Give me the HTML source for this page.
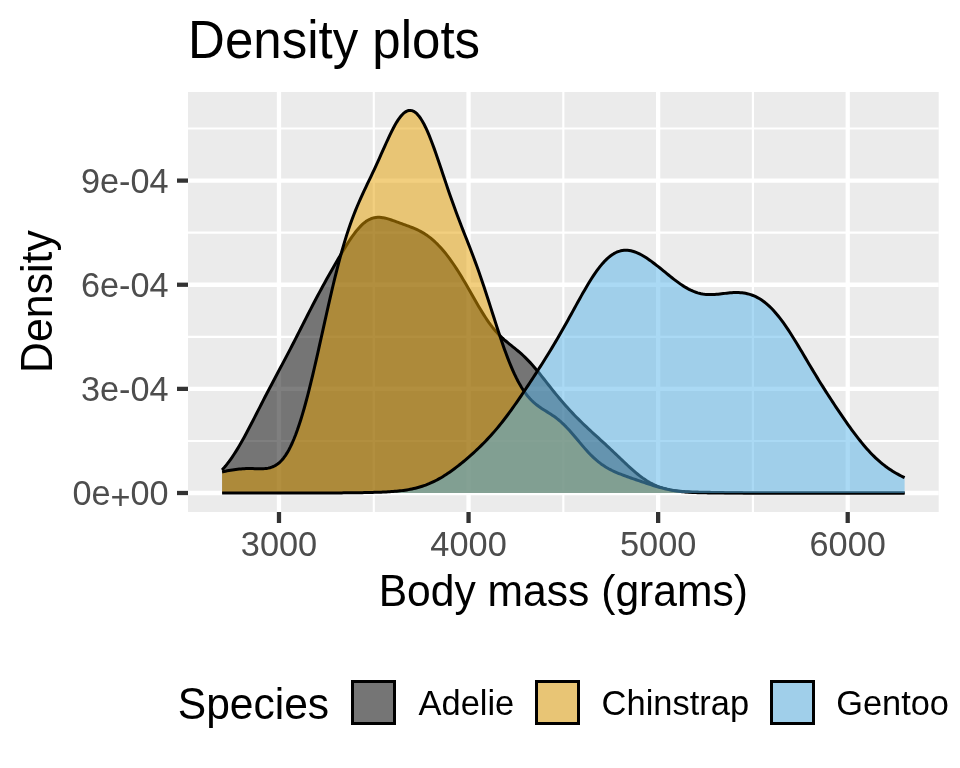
<!DOCTYPE html>
<html><head><meta charset="utf-8"><style>
html,body{margin:0;padding:0;background:#fff;}
svg{display:block;will-change:transform;}
text{font-family:"Liberation Sans",sans-serif;}
.mj{stroke:#fff;stroke-width:4.27;}
.mn{stroke:#fff;stroke-width:2.13;}
.tk{stroke:#333;stroke-width:4.27;}
.ax{font-size:35.2px;fill:#4d4d4d;}
.lt{font-size:35.2px;fill:#000;}
</style></head><body>
<svg width="960" height="768" viewBox="0 0 960 768">
<rect x="0" y="0" width="960" height="768" fill="#fff"/>
<text transform="translate(188.1,58.3) scale(0.966,1)" font-size="52.8" fill="#000">Density plots</text>
<rect x="188" y="92" width="750.7" height="420" fill="#ebebeb"/>
<line x1="373.78" y1="92" x2="373.78" y2="512" class="mn"/><line x1="563.35" y1="92" x2="563.35" y2="512" class="mn"/><line x1="752.92" y1="92" x2="752.92" y2="512" class="mn"/><line x1="188" y1="440.94" x2="938.7" y2="440.94" class="mn"/><line x1="188" y1="336.81" x2="938.7" y2="336.81" class="mn"/><line x1="188" y1="232.67" x2="938.7" y2="232.67" class="mn"/><line x1="188" y1="128.54" x2="938.7" y2="128.54" class="mn"/><line x1="278.99" y1="92" x2="278.99" y2="512" class="mj"/><line x1="468.56" y1="92" x2="468.56" y2="512" class="mj"/><line x1="658.14" y1="92" x2="658.14" y2="512" class="mj"/><line x1="847.71" y1="92" x2="847.71" y2="512" class="mj"/><line x1="188" y1="493.00" x2="938.7" y2="493.00" class="mj"/><line x1="188" y1="388.87" x2="938.7" y2="388.87" class="mj"/><line x1="188" y1="284.74" x2="938.7" y2="284.74" class="mj"/><line x1="188" y1="180.61" x2="938.7" y2="180.61" class="mj"/>
<path d="M222.10,470.02 L223.81,468.10 L225.52,466.07 L227.23,463.93 L228.94,461.68 L230.65,459.32 L232.36,456.86 L234.07,454.29 L235.78,451.62 L237.49,448.85 L239.21,445.99 L240.92,443.05 L242.63,440.03 L244.34,436.94 L246.05,433.78 L247.76,430.58 L249.47,427.32 L251.18,424.03 L252.89,420.71 L254.60,417.37 L256.31,414.02 L258.02,410.67 L259.73,407.31 L261.44,403.96 L263.15,400.62 L264.86,397.30 L266.57,393.99 L268.28,390.70 L269.99,387.43 L271.71,384.18 L273.42,380.93 L275.13,377.71 L276.84,374.49 L278.55,371.27 L280.26,368.06 L281.97,364.84 L283.68,361.61 L285.39,358.38 L287.10,355.12 L288.81,351.86 L290.52,348.57 L292.23,345.27 L293.94,341.94 L295.65,338.60 L297.36,335.25 L299.07,331.88 L300.78,328.51 L302.49,325.13 L304.21,321.75 L305.92,318.38 L307.63,315.02 L309.34,311.67 L311.05,308.34 L312.76,305.04 L314.47,301.76 L316.18,298.51 L317.89,295.28 L319.60,292.09 L321.31,288.92 L323.02,285.78 L324.73,282.67 L326.44,279.58 L328.15,276.52 L329.86,273.48 L331.57,270.45 L333.28,267.45 L334.99,264.46 L336.71,261.49 L338.42,258.55 L340.13,255.64 L341.84,252.76 L343.55,249.92 L345.26,247.12 L346.97,244.39 L348.68,241.73 L350.39,239.15 L352.10,236.66 L353.81,234.29 L355.52,232.03 L357.23,229.90 L358.94,227.92 L360.65,226.10 L362.36,224.43 L364.07,222.94 L365.78,221.62 L367.49,220.49 L369.21,219.53 L370.92,218.75 L372.63,218.14 L374.34,217.70 L376.05,217.42 L377.76,217.29 L379.47,217.29 L381.18,217.42 L382.89,217.65 L384.60,217.99 L386.31,218.40 L388.02,218.87 L389.73,219.40 L391.44,219.97 L393.15,220.56 L394.86,221.18 L396.57,221.80 L398.28,222.43 L399.99,223.06 L401.71,223.68 L403.42,224.31 L405.13,224.93 L406.84,225.56 L408.55,226.19 L410.26,226.84 L411.97,227.50 L413.68,228.19 L415.39,228.92 L417.10,229.69 L418.81,230.51 L420.52,231.39 L422.23,232.33 L423.94,233.35 L425.65,234.43 L427.36,235.60 L429.07,236.85 L430.78,238.19 L432.49,239.61 L434.21,241.13 L435.92,242.73 L437.63,244.42 L439.34,246.20 L441.05,248.07 L442.76,250.02 L444.47,252.06 L446.18,254.18 L447.89,256.39 L449.60,258.67 L451.31,261.04 L453.02,263.49 L454.73,266.01 L456.44,268.60 L458.15,271.27 L459.86,274.01 L461.57,276.80 L463.28,279.65 L464.99,282.56 L466.71,285.50 L468.42,288.48 L470.13,291.48 L471.84,294.49 L473.55,297.50 L475.26,300.50 L476.97,303.47 L478.68,306.41 L480.39,309.29 L482.10,312.11 L483.81,314.85 L485.52,317.50 L487.23,320.06 L488.94,322.52 L490.65,324.86 L492.36,327.09 L494.07,329.21 L495.78,331.22 L497.49,333.12 L499.21,334.91 L500.92,336.61 L502.63,338.23 L504.34,339.77 L506.05,341.24 L507.76,342.67 L509.47,344.06 L511.18,345.43 L512.89,346.80 L514.60,348.17 L516.31,349.56 L518.02,350.98 L519.73,352.44 L521.44,353.95 L523.15,355.52 L524.86,357.14 L526.57,358.83 L528.28,360.58 L529.99,362.40 L531.71,364.28 L533.42,366.22 L535.13,368.21 L536.84,370.24 L538.55,372.32 L540.26,374.43 L541.97,376.57 L543.68,378.73 L545.39,380.90 L547.10,383.07 L548.81,385.25 L550.52,387.41 L552.23,389.56 L553.94,391.70 L555.65,393.82 L557.36,395.91 L559.07,397.97 L560.78,400.01 L562.49,402.01 L564.21,403.99 L565.92,405.93 L567.63,407.84 L569.34,409.72 L571.05,411.57 L572.76,413.38 L574.47,415.17 L576.18,416.93 L577.89,418.66 L579.60,420.37 L581.31,422.05 L583.02,423.71 L584.73,425.35 L586.44,426.96 L588.15,428.57 L589.86,430.15 L591.57,431.73 L593.28,433.30 L594.99,434.86 L596.71,436.41 L598.42,437.97 L600.13,439.52 L601.84,441.08 L603.55,442.65 L605.26,444.22 L606.97,445.80 L608.68,447.39 L610.39,448.99 L612.10,450.60 L613.81,452.22 L615.52,453.84 L617.23,455.48 L618.94,457.11 L620.65,458.75 L622.36,460.38 L624.07,462.01 L625.78,463.63 L627.49,465.23 L629.21,466.80 L630.92,468.36 L632.63,469.88 L634.34,471.37 L636.05,472.81 L637.76,474.22 L639.47,475.57 L641.18,476.87 L642.89,478.12 L644.60,479.30 L646.31,480.43 L648.02,481.50 L649.73,482.50 L651.44,483.44 L653.15,484.31 L654.86,485.13 L656.57,485.88 L658.28,486.57 L659.99,487.21 L661.71,487.78 L663.42,488.31 L665.13,488.78 L666.84,489.21 L668.55,489.59 L670.26,489.93 L671.97,490.23 L673.68,490.50 L675.39,490.73 L677.10,490.94 L678.81,491.12 L680.52,491.28 L682.23,491.42 L683.94,491.54 L685.65,491.64 L687.36,491.73 L689.07,491.82 L690.78,491.89 L692.49,491.95 L694.21,492.01 L695.92,492.06 L697.63,492.11 L699.34,492.15 L701.05,492.19 L702.76,492.23 L704.47,492.27 L706.18,492.30 L707.89,492.34 L709.60,492.37 L711.31,492.40 L713.02,492.44 L714.73,492.47 L716.44,492.50 L718.15,492.53 L719.86,492.56 L721.57,492.59 L723.28,492.62 L724.99,492.65 L726.71,492.68 L728.42,492.70 L730.13,492.73 L731.84,492.75 L733.55,492.77 L735.26,492.79 L736.97,492.81 L738.68,492.83 L740.39,492.85 L742.10,492.87 L743.81,492.88 L745.52,492.89 L747.23,492.91 L748.94,492.92 L750.65,492.93 L752.36,492.94 L754.07,492.94 L755.78,492.95 L757.49,492.96 L759.21,492.96 L760.92,492.97 L762.63,492.97 L764.34,492.98 L766.05,492.98 L767.76,492.98 L769.47,492.99 L771.18,492.99 L772.89,492.99 L774.60,492.99 L776.31,492.99 L778.02,492.99 L779.73,493.00 L781.44,493.00 L783.15,493.00 L784.86,493.00 L786.57,493.00 L788.28,493.00 L789.99,493.00 L791.71,493.00 L793.42,493.00 L795.13,493.00 L796.84,493.00 L798.55,493.00 L800.26,493.00 L801.97,493.00 L803.68,493.00 L805.39,493.00 L807.10,493.00 L808.81,493.00 L810.52,493.00 L812.23,493.00 L813.94,493.00 L815.65,493.00 L817.36,493.00 L819.07,493.00 L820.78,493.00 L822.49,493.00 L824.21,493.00 L825.92,493.00 L827.63,493.00 L829.34,493.00 L831.05,493.00 L832.76,493.00 L834.47,493.00 L836.18,493.00 L837.89,493.00 L839.60,493.00 L841.31,493.00 L843.02,493.00 L844.73,493.00 L846.44,493.00 L848.15,493.00 L849.86,493.00 L851.57,493.00 L853.28,493.00 L854.99,493.00 L856.71,493.00 L858.42,493.00 L860.13,493.00 L861.84,493.00 L863.55,493.00 L865.26,493.00 L866.97,493.00 L868.68,493.00 L870.39,493.00 L872.10,493.00 L873.81,493.00 L875.52,493.00 L877.23,493.00 L878.94,493.00 L880.65,493.00 L882.36,493.00 L884.07,493.00 L885.78,493.00 L887.49,493.00 L889.21,493.00 L890.92,493.00 L892.63,493.00 L894.34,493.00 L896.05,493.00 L897.76,493.00 L899.47,493.00 L901.18,493.00 L902.89,493.00 L904.60,493.00 L904.60,493.0 L222.10,493.0 Z" fill="rgba(0,0,0,0.5)" stroke="none"/><path d="M222.10,470.02 L223.81,468.10 L225.52,466.07 L227.23,463.93 L228.94,461.68 L230.65,459.32 L232.36,456.86 L234.07,454.29 L235.78,451.62 L237.49,448.85 L239.21,445.99 L240.92,443.05 L242.63,440.03 L244.34,436.94 L246.05,433.78 L247.76,430.58 L249.47,427.32 L251.18,424.03 L252.89,420.71 L254.60,417.37 L256.31,414.02 L258.02,410.67 L259.73,407.31 L261.44,403.96 L263.15,400.62 L264.86,397.30 L266.57,393.99 L268.28,390.70 L269.99,387.43 L271.71,384.18 L273.42,380.93 L275.13,377.71 L276.84,374.49 L278.55,371.27 L280.26,368.06 L281.97,364.84 L283.68,361.61 L285.39,358.38 L287.10,355.12 L288.81,351.86 L290.52,348.57 L292.23,345.27 L293.94,341.94 L295.65,338.60 L297.36,335.25 L299.07,331.88 L300.78,328.51 L302.49,325.13 L304.21,321.75 L305.92,318.38 L307.63,315.02 L309.34,311.67 L311.05,308.34 L312.76,305.04 L314.47,301.76 L316.18,298.51 L317.89,295.28 L319.60,292.09 L321.31,288.92 L323.02,285.78 L324.73,282.67 L326.44,279.58 L328.15,276.52 L329.86,273.48 L331.57,270.45 L333.28,267.45 L334.99,264.46 L336.71,261.49 L338.42,258.55 L340.13,255.64 L341.84,252.76 L343.55,249.92 L345.26,247.12 L346.97,244.39 L348.68,241.73 L350.39,239.15 L352.10,236.66 L353.81,234.29 L355.52,232.03 L357.23,229.90 L358.94,227.92 L360.65,226.10 L362.36,224.43 L364.07,222.94 L365.78,221.62 L367.49,220.49 L369.21,219.53 L370.92,218.75 L372.63,218.14 L374.34,217.70 L376.05,217.42 L377.76,217.29 L379.47,217.29 L381.18,217.42 L382.89,217.65 L384.60,217.99 L386.31,218.40 L388.02,218.87 L389.73,219.40 L391.44,219.97 L393.15,220.56 L394.86,221.18 L396.57,221.80 L398.28,222.43 L399.99,223.06 L401.71,223.68 L403.42,224.31 L405.13,224.93 L406.84,225.56 L408.55,226.19 L410.26,226.84 L411.97,227.50 L413.68,228.19 L415.39,228.92 L417.10,229.69 L418.81,230.51 L420.52,231.39 L422.23,232.33 L423.94,233.35 L425.65,234.43 L427.36,235.60 L429.07,236.85 L430.78,238.19 L432.49,239.61 L434.21,241.13 L435.92,242.73 L437.63,244.42 L439.34,246.20 L441.05,248.07 L442.76,250.02 L444.47,252.06 L446.18,254.18 L447.89,256.39 L449.60,258.67 L451.31,261.04 L453.02,263.49 L454.73,266.01 L456.44,268.60 L458.15,271.27 L459.86,274.01 L461.57,276.80 L463.28,279.65 L464.99,282.56 L466.71,285.50 L468.42,288.48 L470.13,291.48 L471.84,294.49 L473.55,297.50 L475.26,300.50 L476.97,303.47 L478.68,306.41 L480.39,309.29 L482.10,312.11 L483.81,314.85 L485.52,317.50 L487.23,320.06 L488.94,322.52 L490.65,324.86 L492.36,327.09 L494.07,329.21 L495.78,331.22 L497.49,333.12 L499.21,334.91 L500.92,336.61 L502.63,338.23 L504.34,339.77 L506.05,341.24 L507.76,342.67 L509.47,344.06 L511.18,345.43 L512.89,346.80 L514.60,348.17 L516.31,349.56 L518.02,350.98 L519.73,352.44 L521.44,353.95 L523.15,355.52 L524.86,357.14 L526.57,358.83 L528.28,360.58 L529.99,362.40 L531.71,364.28 L533.42,366.22 L535.13,368.21 L536.84,370.24 L538.55,372.32 L540.26,374.43 L541.97,376.57 L543.68,378.73 L545.39,380.90 L547.10,383.07 L548.81,385.25 L550.52,387.41 L552.23,389.56 L553.94,391.70 L555.65,393.82 L557.36,395.91 L559.07,397.97 L560.78,400.01 L562.49,402.01 L564.21,403.99 L565.92,405.93 L567.63,407.84 L569.34,409.72 L571.05,411.57 L572.76,413.38 L574.47,415.17 L576.18,416.93 L577.89,418.66 L579.60,420.37 L581.31,422.05 L583.02,423.71 L584.73,425.35 L586.44,426.96 L588.15,428.57 L589.86,430.15 L591.57,431.73 L593.28,433.30 L594.99,434.86 L596.71,436.41 L598.42,437.97 L600.13,439.52 L601.84,441.08 L603.55,442.65 L605.26,444.22 L606.97,445.80 L608.68,447.39 L610.39,448.99 L612.10,450.60 L613.81,452.22 L615.52,453.84 L617.23,455.48 L618.94,457.11 L620.65,458.75 L622.36,460.38 L624.07,462.01 L625.78,463.63 L627.49,465.23 L629.21,466.80 L630.92,468.36 L632.63,469.88 L634.34,471.37 L636.05,472.81 L637.76,474.22 L639.47,475.57 L641.18,476.87 L642.89,478.12 L644.60,479.30 L646.31,480.43 L648.02,481.50 L649.73,482.50 L651.44,483.44 L653.15,484.31 L654.86,485.13 L656.57,485.88 L658.28,486.57 L659.99,487.21 L661.71,487.78 L663.42,488.31 L665.13,488.78 L666.84,489.21 L668.55,489.59 L670.26,489.93 L671.97,490.23 L673.68,490.50 L675.39,490.73 L677.10,490.94 L678.81,491.12 L680.52,491.28 L682.23,491.42 L683.94,491.54 L685.65,491.64 L687.36,491.73 L689.07,491.82 L690.78,491.89 L692.49,491.95 L694.21,492.01 L695.92,492.06 L697.63,492.11 L699.34,492.15 L701.05,492.19 L702.76,492.23 L704.47,492.27 L706.18,492.30 L707.89,492.34 L709.60,492.37 L711.31,492.40 L713.02,492.44 L714.73,492.47 L716.44,492.50 L718.15,492.53 L719.86,492.56 L721.57,492.59 L723.28,492.62 L724.99,492.65 L726.71,492.68 L728.42,492.70 L730.13,492.73 L731.84,492.75 L733.55,492.77 L735.26,492.79 L736.97,492.81 L738.68,492.83 L740.39,492.85 L742.10,492.87 L743.81,492.88 L745.52,492.89 L747.23,492.91 L748.94,492.92 L750.65,492.93 L752.36,492.94 L754.07,492.94 L755.78,492.95 L757.49,492.96 L759.21,492.96 L760.92,492.97 L762.63,492.97 L764.34,492.98 L766.05,492.98 L767.76,492.98 L769.47,492.99 L771.18,492.99 L772.89,492.99 L774.60,492.99 L776.31,492.99 L778.02,492.99 L779.73,493.00 L781.44,493.00 L783.15,493.00 L784.86,493.00 L786.57,493.00 L788.28,493.00 L789.99,493.00 L791.71,493.00 L793.42,493.00 L795.13,493.00 L796.84,493.00 L798.55,493.00 L800.26,493.00 L801.97,493.00 L803.68,493.00 L805.39,493.00 L807.10,493.00 L808.81,493.00 L810.52,493.00 L812.23,493.00 L813.94,493.00 L815.65,493.00 L817.36,493.00 L819.07,493.00 L820.78,493.00 L822.49,493.00 L824.21,493.00 L825.92,493.00 L827.63,493.00 L829.34,493.00 L831.05,493.00 L832.76,493.00 L834.47,493.00 L836.18,493.00 L837.89,493.00 L839.60,493.00 L841.31,493.00 L843.02,493.00 L844.73,493.00 L846.44,493.00 L848.15,493.00 L849.86,493.00 L851.57,493.00 L853.28,493.00 L854.99,493.00 L856.71,493.00 L858.42,493.00 L860.13,493.00 L861.84,493.00 L863.55,493.00 L865.26,493.00 L866.97,493.00 L868.68,493.00 L870.39,493.00 L872.10,493.00 L873.81,493.00 L875.52,493.00 L877.23,493.00 L878.94,493.00 L880.65,493.00 L882.36,493.00 L884.07,493.00 L885.78,493.00 L887.49,493.00 L889.21,493.00 L890.92,493.00 L892.63,493.00 L894.34,493.00 L896.05,493.00 L897.76,493.00 L899.47,493.00 L901.18,493.00 L902.89,493.00 L904.60,493.00" fill="none" stroke="#000" stroke-width="3" stroke-linejoin="round"/><path d="M222.10,471.92 L223.81,471.53 L225.52,471.17 L227.23,470.83 L228.94,470.51 L230.65,470.20 L232.36,469.92 L234.07,469.67 L235.78,469.43 L237.49,469.22 L239.21,469.04 L240.92,468.89 L242.63,468.76 L244.34,468.67 L246.05,468.60 L247.76,468.57 L249.47,468.55 L251.18,468.56 L252.89,468.59 L254.60,468.63 L256.31,468.68 L258.02,468.72 L259.73,468.74 L261.44,468.74 L263.15,468.69 L264.86,468.58 L266.57,468.40 L268.28,468.12 L269.99,467.72 L271.71,467.19 L273.42,466.50 L275.13,465.64 L276.84,464.58 L278.55,463.29 L280.26,461.77 L281.97,459.98 L283.68,457.92 L285.39,455.57 L287.10,452.91 L288.81,449.94 L290.52,446.63 L292.23,442.99 L293.94,439.01 L295.65,434.70 L297.36,430.05 L299.07,425.06 L300.78,419.76 L302.49,414.14 L304.21,408.22 L305.92,402.02 L307.63,395.56 L309.34,388.85 L311.05,381.93 L312.76,374.81 L314.47,367.53 L316.18,360.10 L317.89,352.56 L319.60,344.94 L321.31,337.26 L323.02,329.56 L324.73,321.87 L326.44,314.21 L328.15,306.62 L329.86,299.12 L331.57,291.74 L333.28,284.51 L334.99,277.44 L336.71,270.57 L338.42,263.90 L340.13,257.46 L341.84,251.25 L343.55,245.29 L345.26,239.58 L346.97,234.12 L348.68,228.91 L350.39,223.94 L352.10,219.21 L353.81,214.69 L355.52,210.37 L357.23,206.22 L358.94,202.24 L360.65,198.38 L362.36,194.62 L364.07,190.95 L365.78,187.33 L367.49,183.73 L369.21,180.15 L370.92,176.55 L372.63,172.92 L374.34,169.26 L376.05,165.55 L377.76,161.80 L379.47,158.01 L381.18,154.20 L382.89,150.37 L384.60,146.54 L386.31,142.75 L388.02,139.02 L389.73,135.37 L391.44,131.85 L393.15,128.48 L394.86,125.31 L396.57,122.36 L398.28,119.67 L399.99,117.27 L401.71,115.19 L403.42,113.45 L405.13,112.09 L406.84,111.11 L408.55,110.54 L410.26,110.38 L411.97,110.64 L413.68,111.33 L415.39,112.44 L417.10,113.97 L418.81,115.91 L420.52,118.25 L422.23,120.97 L423.94,124.04 L425.65,127.46 L427.36,131.19 L429.07,135.20 L430.78,139.46 L432.49,143.95 L434.21,148.62 L435.92,153.45 L437.63,158.40 L439.34,163.44 L441.05,168.53 L442.76,173.65 L444.47,178.77 L446.18,183.87 L447.89,188.91 L449.60,193.89 L451.31,198.79 L453.02,203.61 L454.73,208.34 L456.44,212.98 L458.15,217.54 L459.86,222.03 L461.57,226.45 L463.28,230.84 L464.99,235.19 L466.71,239.54 L468.42,243.91 L470.13,248.30 L471.84,252.75 L473.55,257.26 L475.26,261.86 L476.97,266.54 L478.68,271.33 L480.39,276.22 L482.10,281.20 L483.81,286.28 L485.52,291.45 L487.23,296.70 L488.94,302.00 L490.65,307.34 L492.36,312.70 L494.07,318.06 L495.78,323.39 L497.49,328.68 L499.21,333.89 L500.92,339.01 L502.63,344.01 L504.34,348.88 L506.05,353.59 L507.76,358.14 L509.47,362.50 L511.18,366.67 L512.89,370.63 L514.60,374.38 L516.31,377.92 L518.02,381.25 L519.73,384.36 L521.44,387.26 L523.15,389.94 L524.86,392.43 L526.57,394.72 L528.28,396.83 L529.99,398.76 L531.71,400.53 L533.42,402.16 L535.13,403.65 L536.84,405.03 L538.55,406.31 L540.26,407.50 L541.97,408.64 L543.68,409.73 L545.39,410.80 L547.10,411.85 L548.81,412.92 L550.52,414.01 L552.23,415.14 L553.94,416.32 L555.65,417.56 L557.36,418.87 L559.07,420.26 L560.78,421.74 L562.49,423.30 L564.21,424.94 L565.92,426.66 L567.63,428.46 L569.34,430.33 L571.05,432.25 L572.76,434.22 L574.47,436.23 L576.18,438.27 L577.89,440.31 L579.60,442.36 L581.31,444.39 L583.02,446.40 L584.73,448.37 L586.44,450.29 L588.15,452.16 L589.86,453.96 L591.57,455.69 L593.28,457.34 L594.99,458.92 L596.71,460.42 L598.42,461.83 L600.13,463.16 L601.84,464.42 L603.55,465.60 L605.26,466.70 L606.97,467.74 L608.68,468.72 L610.39,469.63 L612.10,470.50 L613.81,471.31 L615.52,472.09 L617.23,472.83 L618.94,473.54 L620.65,474.22 L622.36,474.88 L624.07,475.52 L625.78,476.15 L627.49,476.77 L629.21,477.38 L630.92,477.98 L632.63,478.58 L634.34,479.18 L636.05,479.77 L637.76,480.36 L639.47,480.95 L641.18,481.53 L642.89,482.11 L644.60,482.69 L646.31,483.26 L648.02,483.83 L649.73,484.39 L651.44,484.93 L653.15,485.47 L654.86,485.99 L656.57,486.50 L658.28,486.99 L659.99,487.46 L661.71,487.91 L663.42,488.34 L665.13,488.75 L666.84,489.14 L668.55,489.51 L670.26,489.85 L671.97,490.18 L673.68,490.47 L675.39,490.75 L677.10,491.00 L678.81,491.24 L680.52,491.45 L682.23,491.64 L683.94,491.81 L685.65,491.97 L687.36,492.11 L689.07,492.23 L690.78,492.34 L692.49,492.44 L694.21,492.52 L695.92,492.59 L697.63,492.66 L699.34,492.71 L701.05,492.76 L702.76,492.80 L704.47,492.83 L706.18,492.86 L707.89,492.89 L709.60,492.91 L711.31,492.93 L713.02,492.94 L714.73,492.95 L716.44,492.96 L718.15,492.97 L719.86,492.97 L721.57,492.98 L723.28,492.98 L724.99,492.99 L726.71,492.99 L728.42,492.99 L730.13,492.99 L731.84,493.00 L733.55,493.00 L735.26,493.00 L736.97,493.00 L738.68,493.00 L740.39,493.00 L742.10,493.00 L743.81,493.00 L745.52,493.00 L747.23,493.00 L748.94,493.00 L750.65,493.00 L752.36,493.00 L754.07,493.00 L755.78,493.00 L757.49,493.00 L759.21,493.00 L760.92,493.00 L762.63,493.00 L764.34,493.00 L766.05,493.00 L767.76,493.00 L769.47,493.00 L771.18,493.00 L772.89,493.00 L774.60,493.00 L776.31,493.00 L778.02,493.00 L779.73,493.00 L781.44,493.00 L783.15,493.00 L784.86,493.00 L786.57,493.00 L788.28,493.00 L789.99,493.00 L791.71,493.00 L793.42,493.00 L795.13,493.00 L796.84,493.00 L798.55,493.00 L800.26,493.00 L801.97,493.00 L803.68,493.00 L805.39,493.00 L807.10,493.00 L808.81,493.00 L810.52,493.00 L812.23,493.00 L813.94,493.00 L815.65,493.00 L817.36,493.00 L819.07,493.00 L820.78,493.00 L822.49,493.00 L824.21,493.00 L825.92,493.00 L827.63,493.00 L829.34,493.00 L831.05,493.00 L832.76,493.00 L834.47,493.00 L836.18,493.00 L837.89,493.00 L839.60,493.00 L841.31,493.00 L843.02,493.00 L844.73,493.00 L846.44,493.00 L848.15,493.00 L849.86,493.00 L851.57,493.00 L853.28,493.00 L854.99,493.00 L856.71,493.00 L858.42,493.00 L860.13,493.00 L861.84,493.00 L863.55,493.00 L865.26,493.00 L866.97,493.00 L868.68,493.00 L870.39,493.00 L872.10,493.00 L873.81,493.00 L875.52,493.00 L877.23,493.00 L878.94,493.00 L880.65,493.00 L882.36,493.00 L884.07,493.00 L885.78,493.00 L887.49,493.00 L889.21,493.00 L890.92,493.00 L892.63,493.00 L894.34,493.00 L896.05,493.00 L897.76,493.00 L899.47,493.00 L901.18,493.00 L902.89,493.00 L904.60,493.00 L904.60,493.0 L222.10,493.0 Z" fill="rgba(230,159,0,0.5)" stroke="none"/><path d="M222.10,471.92 L223.81,471.53 L225.52,471.17 L227.23,470.83 L228.94,470.51 L230.65,470.20 L232.36,469.92 L234.07,469.67 L235.78,469.43 L237.49,469.22 L239.21,469.04 L240.92,468.89 L242.63,468.76 L244.34,468.67 L246.05,468.60 L247.76,468.57 L249.47,468.55 L251.18,468.56 L252.89,468.59 L254.60,468.63 L256.31,468.68 L258.02,468.72 L259.73,468.74 L261.44,468.74 L263.15,468.69 L264.86,468.58 L266.57,468.40 L268.28,468.12 L269.99,467.72 L271.71,467.19 L273.42,466.50 L275.13,465.64 L276.84,464.58 L278.55,463.29 L280.26,461.77 L281.97,459.98 L283.68,457.92 L285.39,455.57 L287.10,452.91 L288.81,449.94 L290.52,446.63 L292.23,442.99 L293.94,439.01 L295.65,434.70 L297.36,430.05 L299.07,425.06 L300.78,419.76 L302.49,414.14 L304.21,408.22 L305.92,402.02 L307.63,395.56 L309.34,388.85 L311.05,381.93 L312.76,374.81 L314.47,367.53 L316.18,360.10 L317.89,352.56 L319.60,344.94 L321.31,337.26 L323.02,329.56 L324.73,321.87 L326.44,314.21 L328.15,306.62 L329.86,299.12 L331.57,291.74 L333.28,284.51 L334.99,277.44 L336.71,270.57 L338.42,263.90 L340.13,257.46 L341.84,251.25 L343.55,245.29 L345.26,239.58 L346.97,234.12 L348.68,228.91 L350.39,223.94 L352.10,219.21 L353.81,214.69 L355.52,210.37 L357.23,206.22 L358.94,202.24 L360.65,198.38 L362.36,194.62 L364.07,190.95 L365.78,187.33 L367.49,183.73 L369.21,180.15 L370.92,176.55 L372.63,172.92 L374.34,169.26 L376.05,165.55 L377.76,161.80 L379.47,158.01 L381.18,154.20 L382.89,150.37 L384.60,146.54 L386.31,142.75 L388.02,139.02 L389.73,135.37 L391.44,131.85 L393.15,128.48 L394.86,125.31 L396.57,122.36 L398.28,119.67 L399.99,117.27 L401.71,115.19 L403.42,113.45 L405.13,112.09 L406.84,111.11 L408.55,110.54 L410.26,110.38 L411.97,110.64 L413.68,111.33 L415.39,112.44 L417.10,113.97 L418.81,115.91 L420.52,118.25 L422.23,120.97 L423.94,124.04 L425.65,127.46 L427.36,131.19 L429.07,135.20 L430.78,139.46 L432.49,143.95 L434.21,148.62 L435.92,153.45 L437.63,158.40 L439.34,163.44 L441.05,168.53 L442.76,173.65 L444.47,178.77 L446.18,183.87 L447.89,188.91 L449.60,193.89 L451.31,198.79 L453.02,203.61 L454.73,208.34 L456.44,212.98 L458.15,217.54 L459.86,222.03 L461.57,226.45 L463.28,230.84 L464.99,235.19 L466.71,239.54 L468.42,243.91 L470.13,248.30 L471.84,252.75 L473.55,257.26 L475.26,261.86 L476.97,266.54 L478.68,271.33 L480.39,276.22 L482.10,281.20 L483.81,286.28 L485.52,291.45 L487.23,296.70 L488.94,302.00 L490.65,307.34 L492.36,312.70 L494.07,318.06 L495.78,323.39 L497.49,328.68 L499.21,333.89 L500.92,339.01 L502.63,344.01 L504.34,348.88 L506.05,353.59 L507.76,358.14 L509.47,362.50 L511.18,366.67 L512.89,370.63 L514.60,374.38 L516.31,377.92 L518.02,381.25 L519.73,384.36 L521.44,387.26 L523.15,389.94 L524.86,392.43 L526.57,394.72 L528.28,396.83 L529.99,398.76 L531.71,400.53 L533.42,402.16 L535.13,403.65 L536.84,405.03 L538.55,406.31 L540.26,407.50 L541.97,408.64 L543.68,409.73 L545.39,410.80 L547.10,411.85 L548.81,412.92 L550.52,414.01 L552.23,415.14 L553.94,416.32 L555.65,417.56 L557.36,418.87 L559.07,420.26 L560.78,421.74 L562.49,423.30 L564.21,424.94 L565.92,426.66 L567.63,428.46 L569.34,430.33 L571.05,432.25 L572.76,434.22 L574.47,436.23 L576.18,438.27 L577.89,440.31 L579.60,442.36 L581.31,444.39 L583.02,446.40 L584.73,448.37 L586.44,450.29 L588.15,452.16 L589.86,453.96 L591.57,455.69 L593.28,457.34 L594.99,458.92 L596.71,460.42 L598.42,461.83 L600.13,463.16 L601.84,464.42 L603.55,465.60 L605.26,466.70 L606.97,467.74 L608.68,468.72 L610.39,469.63 L612.10,470.50 L613.81,471.31 L615.52,472.09 L617.23,472.83 L618.94,473.54 L620.65,474.22 L622.36,474.88 L624.07,475.52 L625.78,476.15 L627.49,476.77 L629.21,477.38 L630.92,477.98 L632.63,478.58 L634.34,479.18 L636.05,479.77 L637.76,480.36 L639.47,480.95 L641.18,481.53 L642.89,482.11 L644.60,482.69 L646.31,483.26 L648.02,483.83 L649.73,484.39 L651.44,484.93 L653.15,485.47 L654.86,485.99 L656.57,486.50 L658.28,486.99 L659.99,487.46 L661.71,487.91 L663.42,488.34 L665.13,488.75 L666.84,489.14 L668.55,489.51 L670.26,489.85 L671.97,490.18 L673.68,490.47 L675.39,490.75 L677.10,491.00 L678.81,491.24 L680.52,491.45 L682.23,491.64 L683.94,491.81 L685.65,491.97 L687.36,492.11 L689.07,492.23 L690.78,492.34 L692.49,492.44 L694.21,492.52 L695.92,492.59 L697.63,492.66 L699.34,492.71 L701.05,492.76 L702.76,492.80 L704.47,492.83 L706.18,492.86 L707.89,492.89 L709.60,492.91 L711.31,492.93 L713.02,492.94 L714.73,492.95 L716.44,492.96 L718.15,492.97 L719.86,492.97 L721.57,492.98 L723.28,492.98 L724.99,492.99 L726.71,492.99 L728.42,492.99 L730.13,492.99 L731.84,493.00 L733.55,493.00 L735.26,493.00 L736.97,493.00 L738.68,493.00 L740.39,493.00 L742.10,493.00 L743.81,493.00 L745.52,493.00 L747.23,493.00 L748.94,493.00 L750.65,493.00 L752.36,493.00 L754.07,493.00 L755.78,493.00 L757.49,493.00 L759.21,493.00 L760.92,493.00 L762.63,493.00 L764.34,493.00 L766.05,493.00 L767.76,493.00 L769.47,493.00 L771.18,493.00 L772.89,493.00 L774.60,493.00 L776.31,493.00 L778.02,493.00 L779.73,493.00 L781.44,493.00 L783.15,493.00 L784.86,493.00 L786.57,493.00 L788.28,493.00 L789.99,493.00 L791.71,493.00 L793.42,493.00 L795.13,493.00 L796.84,493.00 L798.55,493.00 L800.26,493.00 L801.97,493.00 L803.68,493.00 L805.39,493.00 L807.10,493.00 L808.81,493.00 L810.52,493.00 L812.23,493.00 L813.94,493.00 L815.65,493.00 L817.36,493.00 L819.07,493.00 L820.78,493.00 L822.49,493.00 L824.21,493.00 L825.92,493.00 L827.63,493.00 L829.34,493.00 L831.05,493.00 L832.76,493.00 L834.47,493.00 L836.18,493.00 L837.89,493.00 L839.60,493.00 L841.31,493.00 L843.02,493.00 L844.73,493.00 L846.44,493.00 L848.15,493.00 L849.86,493.00 L851.57,493.00 L853.28,493.00 L854.99,493.00 L856.71,493.00 L858.42,493.00 L860.13,493.00 L861.84,493.00 L863.55,493.00 L865.26,493.00 L866.97,493.00 L868.68,493.00 L870.39,493.00 L872.10,493.00 L873.81,493.00 L875.52,493.00 L877.23,493.00 L878.94,493.00 L880.65,493.00 L882.36,493.00 L884.07,493.00 L885.78,493.00 L887.49,493.00 L889.21,493.00 L890.92,493.00 L892.63,493.00 L894.34,493.00 L896.05,493.00 L897.76,493.00 L899.47,493.00 L901.18,493.00 L902.89,493.00 L904.60,493.00" fill="none" stroke="#000" stroke-width="3" stroke-linejoin="round"/><path d="M222.10,493.00 L223.81,493.00 L225.52,493.00 L227.23,493.00 L228.94,493.00 L230.65,493.00 L232.36,493.00 L234.07,493.00 L235.78,493.00 L237.49,493.00 L239.21,493.00 L240.92,493.00 L242.63,493.00 L244.34,493.00 L246.05,493.00 L247.76,493.00 L249.47,493.00 L251.18,493.00 L252.89,493.00 L254.60,493.00 L256.31,493.00 L258.02,493.00 L259.73,493.00 L261.44,493.00 L263.15,493.00 L264.86,493.00 L266.57,493.00 L268.28,493.00 L269.99,493.00 L271.71,493.00 L273.42,493.00 L275.13,493.00 L276.84,492.99 L278.55,492.99 L280.26,492.99 L281.97,492.99 L283.68,492.99 L285.39,492.99 L287.10,492.99 L288.81,492.99 L290.52,492.99 L292.23,492.99 L293.94,492.99 L295.65,492.99 L297.36,492.99 L299.07,492.99 L300.78,492.98 L302.49,492.98 L304.21,492.98 L305.92,492.98 L307.63,492.98 L309.34,492.98 L311.05,492.98 L312.76,492.97 L314.47,492.97 L316.18,492.97 L317.89,492.97 L319.60,492.96 L321.31,492.96 L323.02,492.96 L324.73,492.95 L326.44,492.95 L328.15,492.94 L329.86,492.94 L331.57,492.93 L333.28,492.92 L334.99,492.92 L336.71,492.91 L338.42,492.90 L340.13,492.89 L341.84,492.88 L343.55,492.87 L345.26,492.85 L346.97,492.84 L348.68,492.82 L350.39,492.81 L352.10,492.79 L353.81,492.77 L355.52,492.75 L357.23,492.73 L358.94,492.70 L360.65,492.67 L362.36,492.65 L364.07,492.62 L365.78,492.58 L367.49,492.55 L369.21,492.51 L370.92,492.47 L372.63,492.42 L374.34,492.37 L376.05,492.32 L377.76,492.26 L379.47,492.20 L381.18,492.14 L382.89,492.06 L384.60,491.98 L386.31,491.90 L388.02,491.80 L389.73,491.70 L391.44,491.58 L393.15,491.46 L394.86,491.32 L396.57,491.17 L398.28,491.00 L399.99,490.82 L401.71,490.62 L403.42,490.40 L405.13,490.16 L406.84,489.90 L408.55,489.61 L410.26,489.30 L411.97,488.96 L413.68,488.59 L415.39,488.19 L417.10,487.76 L418.81,487.30 L420.52,486.80 L422.23,486.26 L423.94,485.68 L425.65,485.07 L427.36,484.41 L429.07,483.72 L430.78,482.98 L432.49,482.20 L434.21,481.38 L435.92,480.52 L437.63,479.62 L439.34,478.67 L441.05,477.69 L442.76,476.66 L444.47,475.60 L446.18,474.50 L447.89,473.36 L449.60,472.19 L451.31,470.98 L453.02,469.75 L454.73,468.48 L456.44,467.18 L458.15,465.86 L459.86,464.50 L461.57,463.13 L463.28,461.73 L464.99,460.30 L466.71,458.85 L468.42,457.38 L470.13,455.88 L471.84,454.36 L473.55,452.81 L475.26,451.24 L476.97,449.64 L478.68,448.02 L480.39,446.36 L482.10,444.67 L483.81,442.96 L485.52,441.20 L487.23,439.41 L488.94,437.59 L490.65,435.72 L492.36,433.81 L494.07,431.87 L495.78,429.88 L497.49,427.84 L499.21,425.77 L500.92,423.65 L502.63,421.48 L504.34,419.28 L506.05,417.03 L507.76,414.75 L509.47,412.43 L511.18,410.07 L512.89,407.68 L514.60,405.25 L516.31,402.80 L518.02,400.33 L519.73,397.83 L521.44,395.31 L523.15,392.77 L524.86,390.21 L526.57,387.64 L528.28,385.05 L529.99,382.46 L531.71,379.85 L533.42,377.22 L535.13,374.59 L536.84,371.95 L538.55,369.29 L540.26,366.62 L541.97,363.93 L543.68,361.23 L545.39,358.50 L547.10,355.76 L548.81,352.99 L550.52,350.19 L552.23,347.37 L553.94,344.52 L555.65,341.64 L557.36,338.74 L559.07,335.80 L560.78,332.83 L562.49,329.83 L564.21,326.80 L565.92,323.75 L567.63,320.68 L569.34,317.59 L571.05,314.48 L572.76,311.37 L574.47,308.25 L576.18,305.14 L577.89,302.03 L579.60,298.95 L581.31,295.89 L583.02,292.86 L584.73,289.88 L586.44,286.95 L588.15,284.08 L589.86,281.28 L591.57,278.56 L593.28,275.92 L594.99,273.38 L596.71,270.95 L598.42,268.62 L600.13,266.42 L601.84,264.34 L603.55,262.39 L605.26,260.57 L606.97,258.90 L608.68,257.37 L610.39,255.99 L612.10,254.76 L613.81,253.68 L615.52,252.74 L617.23,251.96 L618.94,251.33 L620.65,250.84 L622.36,250.50 L624.07,250.29 L625.78,250.22 L627.49,250.28 L629.21,250.47 L630.92,250.78 L632.63,251.20 L634.34,251.72 L636.05,252.35 L637.76,253.07 L639.47,253.88 L641.18,254.76 L642.89,255.72 L644.60,256.75 L646.31,257.84 L648.02,258.98 L649.73,260.17 L651.44,261.41 L653.15,262.68 L654.86,263.98 L656.57,265.32 L658.28,266.67 L659.99,268.04 L661.71,269.43 L663.42,270.82 L665.13,272.21 L666.84,273.61 L668.55,274.99 L670.26,276.37 L671.97,277.73 L673.68,279.07 L675.39,280.38 L677.10,281.66 L678.81,282.91 L680.52,284.11 L682.23,285.26 L683.94,286.37 L685.65,287.41 L687.36,288.39 L689.07,289.31 L690.78,290.16 L692.49,290.94 L694.21,291.64 L695.92,292.27 L697.63,292.82 L699.34,293.30 L701.05,293.69 L702.76,294.01 L704.47,294.26 L706.18,294.44 L707.89,294.56 L709.60,294.61 L711.31,294.61 L713.02,294.56 L714.73,294.46 L716.44,294.33 L718.15,294.17 L719.86,293.99 L721.57,293.79 L723.28,293.58 L724.99,293.38 L726.71,293.18 L728.42,293.00 L730.13,292.84 L731.84,292.71 L733.55,292.61 L735.26,292.55 L736.97,292.54 L738.68,292.58 L740.39,292.67 L742.10,292.83 L743.81,293.05 L745.52,293.34 L747.23,293.70 L748.94,294.13 L750.65,294.65 L752.36,295.25 L754.07,295.94 L755.78,296.71 L757.49,297.58 L759.21,298.54 L760.92,299.60 L762.63,300.75 L764.34,302.01 L766.05,303.36 L767.76,304.82 L769.47,306.38 L771.18,308.05 L772.89,309.81 L774.60,311.68 L776.31,313.65 L778.02,315.71 L779.73,317.87 L781.44,320.12 L783.15,322.45 L784.86,324.86 L786.57,327.35 L788.28,329.91 L789.99,332.54 L791.71,335.22 L793.42,337.95 L795.13,340.72 L796.84,343.53 L798.55,346.36 L800.26,349.23 L801.97,352.10 L803.68,354.99 L805.39,357.88 L807.10,360.77 L808.81,363.65 L810.52,366.53 L812.23,369.39 L813.94,372.23 L815.65,375.06 L817.36,377.87 L819.07,380.66 L820.78,383.42 L822.49,386.16 L824.21,388.88 L825.92,391.58 L827.63,394.26 L829.34,396.91 L831.05,399.55 L832.76,402.16 L834.47,404.76 L836.18,407.33 L837.89,409.89 L839.60,412.43 L841.31,414.94 L843.02,417.44 L844.73,419.91 L846.44,422.36 L848.15,424.78 L849.86,427.17 L851.57,429.54 L853.28,431.86 L854.99,434.15 L856.71,436.41 L858.42,438.62 L860.13,440.78 L861.84,442.89 L863.55,444.96 L865.26,446.97 L866.97,448.92 L868.68,450.82 L870.39,452.66 L872.10,454.44 L873.81,456.16 L875.52,457.82 L877.23,459.41 L878.94,460.94 L880.65,462.42 L882.36,463.83 L884.07,465.19 L885.78,466.49 L887.49,467.73 L889.21,468.92 L890.92,470.06 L892.63,471.15 L894.34,472.20 L896.05,473.20 L897.76,474.16 L899.47,475.08 L901.18,475.96 L902.89,476.81 L904.60,477.62 L904.60,493.0 L222.10,493.0 Z" fill="rgba(86,180,233,0.5)" stroke="none"/><path d="M222.10,493.00 L223.81,493.00 L225.52,493.00 L227.23,493.00 L228.94,493.00 L230.65,493.00 L232.36,493.00 L234.07,493.00 L235.78,493.00 L237.49,493.00 L239.21,493.00 L240.92,493.00 L242.63,493.00 L244.34,493.00 L246.05,493.00 L247.76,493.00 L249.47,493.00 L251.18,493.00 L252.89,493.00 L254.60,493.00 L256.31,493.00 L258.02,493.00 L259.73,493.00 L261.44,493.00 L263.15,493.00 L264.86,493.00 L266.57,493.00 L268.28,493.00 L269.99,493.00 L271.71,493.00 L273.42,493.00 L275.13,493.00 L276.84,492.99 L278.55,492.99 L280.26,492.99 L281.97,492.99 L283.68,492.99 L285.39,492.99 L287.10,492.99 L288.81,492.99 L290.52,492.99 L292.23,492.99 L293.94,492.99 L295.65,492.99 L297.36,492.99 L299.07,492.99 L300.78,492.98 L302.49,492.98 L304.21,492.98 L305.92,492.98 L307.63,492.98 L309.34,492.98 L311.05,492.98 L312.76,492.97 L314.47,492.97 L316.18,492.97 L317.89,492.97 L319.60,492.96 L321.31,492.96 L323.02,492.96 L324.73,492.95 L326.44,492.95 L328.15,492.94 L329.86,492.94 L331.57,492.93 L333.28,492.92 L334.99,492.92 L336.71,492.91 L338.42,492.90 L340.13,492.89 L341.84,492.88 L343.55,492.87 L345.26,492.85 L346.97,492.84 L348.68,492.82 L350.39,492.81 L352.10,492.79 L353.81,492.77 L355.52,492.75 L357.23,492.73 L358.94,492.70 L360.65,492.67 L362.36,492.65 L364.07,492.62 L365.78,492.58 L367.49,492.55 L369.21,492.51 L370.92,492.47 L372.63,492.42 L374.34,492.37 L376.05,492.32 L377.76,492.26 L379.47,492.20 L381.18,492.14 L382.89,492.06 L384.60,491.98 L386.31,491.90 L388.02,491.80 L389.73,491.70 L391.44,491.58 L393.15,491.46 L394.86,491.32 L396.57,491.17 L398.28,491.00 L399.99,490.82 L401.71,490.62 L403.42,490.40 L405.13,490.16 L406.84,489.90 L408.55,489.61 L410.26,489.30 L411.97,488.96 L413.68,488.59 L415.39,488.19 L417.10,487.76 L418.81,487.30 L420.52,486.80 L422.23,486.26 L423.94,485.68 L425.65,485.07 L427.36,484.41 L429.07,483.72 L430.78,482.98 L432.49,482.20 L434.21,481.38 L435.92,480.52 L437.63,479.62 L439.34,478.67 L441.05,477.69 L442.76,476.66 L444.47,475.60 L446.18,474.50 L447.89,473.36 L449.60,472.19 L451.31,470.98 L453.02,469.75 L454.73,468.48 L456.44,467.18 L458.15,465.86 L459.86,464.50 L461.57,463.13 L463.28,461.73 L464.99,460.30 L466.71,458.85 L468.42,457.38 L470.13,455.88 L471.84,454.36 L473.55,452.81 L475.26,451.24 L476.97,449.64 L478.68,448.02 L480.39,446.36 L482.10,444.67 L483.81,442.96 L485.52,441.20 L487.23,439.41 L488.94,437.59 L490.65,435.72 L492.36,433.81 L494.07,431.87 L495.78,429.88 L497.49,427.84 L499.21,425.77 L500.92,423.65 L502.63,421.48 L504.34,419.28 L506.05,417.03 L507.76,414.75 L509.47,412.43 L511.18,410.07 L512.89,407.68 L514.60,405.25 L516.31,402.80 L518.02,400.33 L519.73,397.83 L521.44,395.31 L523.15,392.77 L524.86,390.21 L526.57,387.64 L528.28,385.05 L529.99,382.46 L531.71,379.85 L533.42,377.22 L535.13,374.59 L536.84,371.95 L538.55,369.29 L540.26,366.62 L541.97,363.93 L543.68,361.23 L545.39,358.50 L547.10,355.76 L548.81,352.99 L550.52,350.19 L552.23,347.37 L553.94,344.52 L555.65,341.64 L557.36,338.74 L559.07,335.80 L560.78,332.83 L562.49,329.83 L564.21,326.80 L565.92,323.75 L567.63,320.68 L569.34,317.59 L571.05,314.48 L572.76,311.37 L574.47,308.25 L576.18,305.14 L577.89,302.03 L579.60,298.95 L581.31,295.89 L583.02,292.86 L584.73,289.88 L586.44,286.95 L588.15,284.08 L589.86,281.28 L591.57,278.56 L593.28,275.92 L594.99,273.38 L596.71,270.95 L598.42,268.62 L600.13,266.42 L601.84,264.34 L603.55,262.39 L605.26,260.57 L606.97,258.90 L608.68,257.37 L610.39,255.99 L612.10,254.76 L613.81,253.68 L615.52,252.74 L617.23,251.96 L618.94,251.33 L620.65,250.84 L622.36,250.50 L624.07,250.29 L625.78,250.22 L627.49,250.28 L629.21,250.47 L630.92,250.78 L632.63,251.20 L634.34,251.72 L636.05,252.35 L637.76,253.07 L639.47,253.88 L641.18,254.76 L642.89,255.72 L644.60,256.75 L646.31,257.84 L648.02,258.98 L649.73,260.17 L651.44,261.41 L653.15,262.68 L654.86,263.98 L656.57,265.32 L658.28,266.67 L659.99,268.04 L661.71,269.43 L663.42,270.82 L665.13,272.21 L666.84,273.61 L668.55,274.99 L670.26,276.37 L671.97,277.73 L673.68,279.07 L675.39,280.38 L677.10,281.66 L678.81,282.91 L680.52,284.11 L682.23,285.26 L683.94,286.37 L685.65,287.41 L687.36,288.39 L689.07,289.31 L690.78,290.16 L692.49,290.94 L694.21,291.64 L695.92,292.27 L697.63,292.82 L699.34,293.30 L701.05,293.69 L702.76,294.01 L704.47,294.26 L706.18,294.44 L707.89,294.56 L709.60,294.61 L711.31,294.61 L713.02,294.56 L714.73,294.46 L716.44,294.33 L718.15,294.17 L719.86,293.99 L721.57,293.79 L723.28,293.58 L724.99,293.38 L726.71,293.18 L728.42,293.00 L730.13,292.84 L731.84,292.71 L733.55,292.61 L735.26,292.55 L736.97,292.54 L738.68,292.58 L740.39,292.67 L742.10,292.83 L743.81,293.05 L745.52,293.34 L747.23,293.70 L748.94,294.13 L750.65,294.65 L752.36,295.25 L754.07,295.94 L755.78,296.71 L757.49,297.58 L759.21,298.54 L760.92,299.60 L762.63,300.75 L764.34,302.01 L766.05,303.36 L767.76,304.82 L769.47,306.38 L771.18,308.05 L772.89,309.81 L774.60,311.68 L776.31,313.65 L778.02,315.71 L779.73,317.87 L781.44,320.12 L783.15,322.45 L784.86,324.86 L786.57,327.35 L788.28,329.91 L789.99,332.54 L791.71,335.22 L793.42,337.95 L795.13,340.72 L796.84,343.53 L798.55,346.36 L800.26,349.23 L801.97,352.10 L803.68,354.99 L805.39,357.88 L807.10,360.77 L808.81,363.65 L810.52,366.53 L812.23,369.39 L813.94,372.23 L815.65,375.06 L817.36,377.87 L819.07,380.66 L820.78,383.42 L822.49,386.16 L824.21,388.88 L825.92,391.58 L827.63,394.26 L829.34,396.91 L831.05,399.55 L832.76,402.16 L834.47,404.76 L836.18,407.33 L837.89,409.89 L839.60,412.43 L841.31,414.94 L843.02,417.44 L844.73,419.91 L846.44,422.36 L848.15,424.78 L849.86,427.17 L851.57,429.54 L853.28,431.86 L854.99,434.15 L856.71,436.41 L858.42,438.62 L860.13,440.78 L861.84,442.89 L863.55,444.96 L865.26,446.97 L866.97,448.92 L868.68,450.82 L870.39,452.66 L872.10,454.44 L873.81,456.16 L875.52,457.82 L877.23,459.41 L878.94,460.94 L880.65,462.42 L882.36,463.83 L884.07,465.19 L885.78,466.49 L887.49,467.73 L889.21,468.92 L890.92,470.06 L892.63,471.15 L894.34,472.20 L896.05,473.20 L897.76,474.16 L899.47,475.08 L901.18,475.96 L902.89,476.81 L904.60,477.62" fill="none" stroke="#000" stroke-width="3" stroke-linejoin="round"/>
<line x1="177" y1="493.00" x2="188" y2="493.00" class="tk"/><line x1="177" y1="388.87" x2="188" y2="388.87" class="tk"/><line x1="177" y1="284.74" x2="188" y2="284.74" class="tk"/><line x1="177" y1="180.61" x2="188" y2="180.61" class="tk"/><line x1="278.99" y1="512" x2="278.99" y2="523" class="tk"/><line x1="468.56" y1="512" x2="468.56" y2="523" class="tk"/><line x1="658.14" y1="512" x2="658.14" y2="523" class="tk"/><line x1="847.71" y1="512" x2="847.71" y2="523" class="tk"/>
<text transform="translate(168.6,505.20) scale(0.973,1)" class="ax" text-anchor="end">0e<tspan dy="3.4">+</tspan><tspan dy="-3.4">00</tspan></text><text transform="translate(168.6,401.07) scale(0.973,1)" class="ax" text-anchor="end">3e-04</text><text transform="translate(168.6,296.94) scale(0.973,1)" class="ax" text-anchor="end">6e-04</text><text transform="translate(168.6,192.81) scale(0.973,1)" class="ax" text-anchor="end">9e-04</text>
<text transform="translate(278.99,556) scale(0.976,1)" class="ax" text-anchor="middle">3000</text><text transform="translate(468.56,556) scale(0.976,1)" class="ax" text-anchor="middle">4000</text><text transform="translate(658.14,556) scale(0.976,1)" class="ax" text-anchor="middle">5000</text><text transform="translate(847.71,556) scale(0.976,1)" class="ax" text-anchor="middle">6000</text>
<text transform="translate(563.3,606.2) scale(0.968,1)" font-size="44" fill="#000" text-anchor="middle">Body mass (grams)</text>
<text transform="translate(51.7,301.5) rotate(-90) scale(0.973,1)" font-size="44" fill="#000" text-anchor="middle">Density</text>
<text transform="translate(177.8,718.7) scale(0.967,1)" font-size="44" fill="#000">Species</text>
<rect x="352.5" y="681.5" width="42" height="42" fill="#ebebeb"/><rect x="352.5" y="681.5" width="42" height="42" fill="rgba(0,0,0,0.5)" stroke="#000" stroke-width="3"/><text transform="translate(418.6,714.7) scale(0.978,1)" class="lt">Adelie</text><rect x="536.5" y="681.5" width="42" height="42" fill="#ebebeb"/><rect x="536.5" y="681.5" width="42" height="42" fill="rgba(230,159,0,0.5)" stroke="#000" stroke-width="3"/><text transform="translate(601.6,714.7) scale(0.979,1)" class="lt">Chinstrap</text><rect x="771.5" y="681.5" width="42" height="42" fill="#ebebeb"/><rect x="771.5" y="681.5" width="42" height="42" fill="rgba(86,180,233,0.5)" stroke="#000" stroke-width="3"/><text transform="translate(836.2,714.7) scale(0.977,1)" class="lt">Gentoo</text>
</svg>
</body></html>
